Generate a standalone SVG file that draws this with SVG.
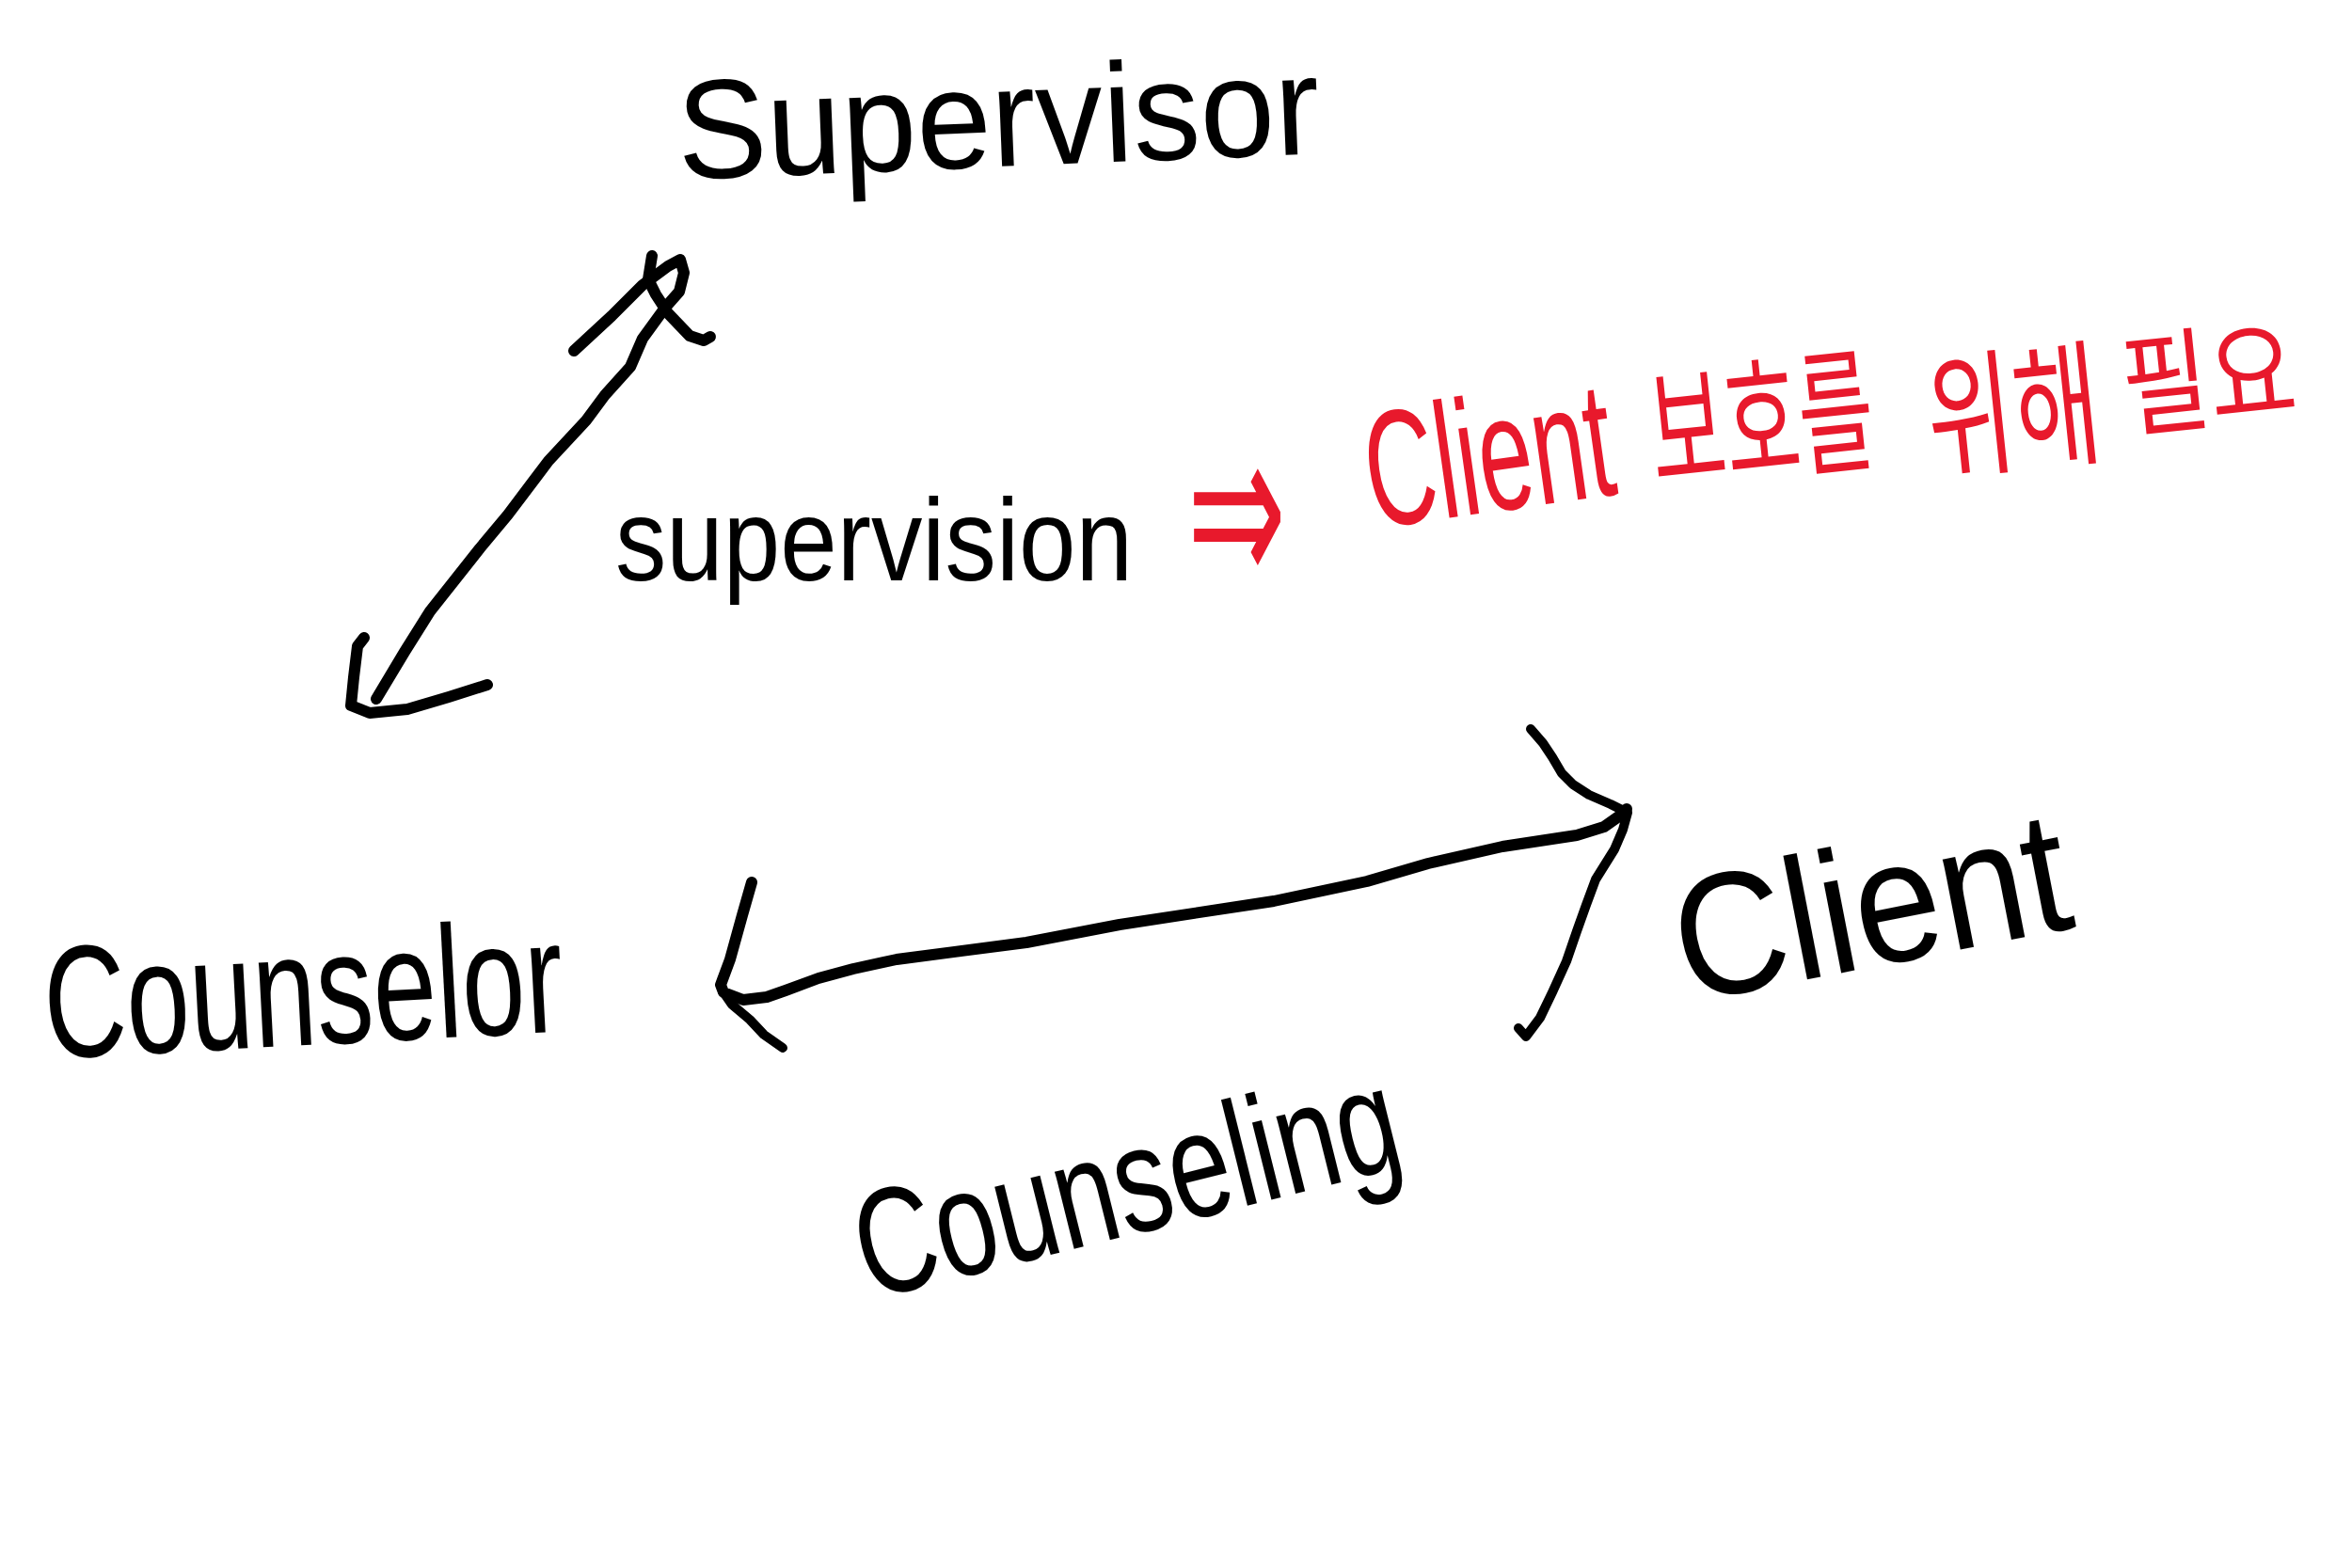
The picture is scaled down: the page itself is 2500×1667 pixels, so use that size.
<svg xmlns="http://www.w3.org/2000/svg" width="2500" height="1667" viewBox="0 0 2500 1667">
<style>
.t{font-family:"Liberation Sans","DejaVu Sans",sans-serif;fill:#000}
.r{font-family:"Liberation Sans","Noto Sans CJK KR",sans-serif;fill:#E8192C}
.k{font-family:"Noto Sans CJK KR",sans-serif;fill:#E8192C}
.ln{fill:none;stroke:#000;stroke-width:12;stroke-linecap:round;stroke-linejoin:round}
.hd{fill:none;stroke:#000;stroke-width:10;stroke-linecap:round;stroke-linejoin:round}
</style>
<rect width="2500" height="1667" fill="#fff"/>
<g id="connectors">
 <g id="edge-supervisor-counselor">
  <path class="ln" d="M 610,373 L 650,336 L 683,303 L 710,283 L 723,276 L 727,290 L 722,310 L 707,327 L 683,360 L 670,390 L 643,420 L 623,447 L 583,490 L 540,547 L 510,583 L 457,650 L 430,693 L 400,743"/>
  <path class="ln" d="M 693,272 L 689,297 L 697,313 L 710,333 L 733,357 L 748,362 L 755,358"/>
  <path class="ln" d="M 387,678 L 380,687 L 376,720 L 373,750 L 393,758 L 433,754 L 477,741 L 518,728"/>
 </g>
 <g id="edge-counselor-client">
  <path class="ln" d="M 799,938 L 789,973 L 776,1020 L 766,1047 L 769,1055 L 790,1063 L 815,1060 L 835,1053 L 870,1040 L 907,1030 L 953,1020 L 1091,1002 L 1190,983 L 1354,958 L 1453,937 L 1518,918 L 1597,900 L 1676,888 L 1705,879 L 1722,867 L 1729,860"/>
  <path class="hd" d="M 769,1055 L 778,1068 L 797,1084 L 812,1100 L 832,1114"/>
  <path class="hd" d="M 1627,775 L 1640,790 L 1650,805 L 1660,822 L 1672,834 L 1689,845 L 1712,855 L 1730,864 L 1725,882 L 1716,903 L 1696,935 L 1686,962 L 1676,990 L 1665,1022 L 1650,1055 L 1637,1082 L 1622,1102 L 1614,1093"/>
 </g>
</g>
<g id="node-supervisor">
 <text class="t" x="720" y="177" font-size="150" textLength="683" lengthAdjust="spacingAndGlyphs" transform="rotate(-2.3 1061 138)">Supervisor</text>
</g>
<g id="node-counselor">
 <text class="t" x="47" y="1111" font-size="170" textLength="552" lengthAdjust="spacingAndGlyphs" transform="rotate(-3 323 1067)">Counselor</text>
</g>
<g id="node-client">
 <text class="t" x="1780" y="1027" font-size="185" textLength="423" lengthAdjust="spacingAndGlyphs" transform="rotate(-11 1990 980)">Client</text>
</g>
<g id="label-supervision">
 <text class="t" x="654" y="617" font-size="125" textLength="550" lengthAdjust="spacingAndGlyphs">supervision</text>
</g>
<g id="label-note">
 <text class="r" x="1262" y="625" font-size="240" textLength="105" lengthAdjust="spacingAndGlyphs" style="font-family:'DejaVu Sans',sans-serif">⇒</text>
 <text class="r" x="1451" y="544" font-size="175" textLength="264" lengthAdjust="spacingAndGlyphs" transform="rotate(-8 1583 490)">Client</text>
 <text class="k" x="1753" y="500" font-size="145" textLength="238" lengthAdjust="spacingAndGlyphs" transform="rotate(-6 1872 445)">보호를</text>
 <text class="k" x="2048" y="490" font-size="145" textLength="184" lengthAdjust="spacingAndGlyphs" transform="rotate(-6 2140 435)">위해</text>
 <text class="k" x="2255" y="446" font-size="120" textLength="185" lengthAdjust="spacingAndGlyphs" transform="rotate(-6 2348 400)">필요</text>
</g>
<g id="label-counseling">
 <text class="t" x="905" y="1312" font-size="160" textLength="590" lengthAdjust="spacingAndGlyphs" transform="rotate(-14 1200 1270)">Counseling</text>
</g>
</svg>
